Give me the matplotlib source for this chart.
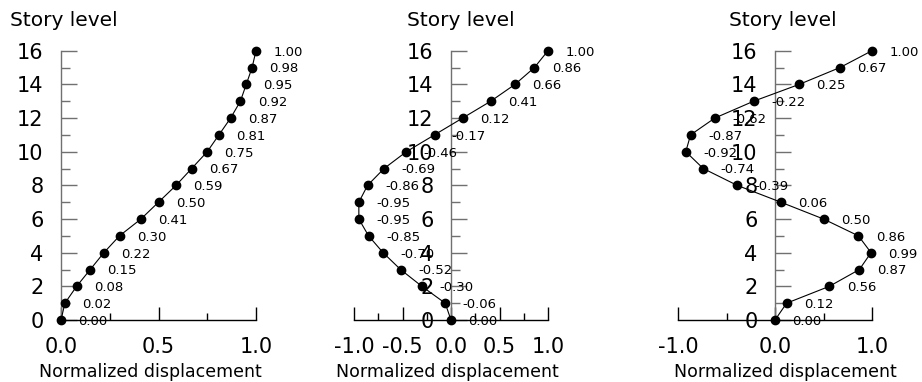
import numpy as np
import matplotlib
matplotlib.use("Agg")
import matplotlib.pyplot as plt
from matplotlib.ticker import MultipleLocator, FormatStrFormatter

plt.rcParams['axes.unicode_minus'] = False
plt.rcParams['font.family'] = ['DejaVu Sans']

# story levels and normalized mode shapes
stories = np.arange(0, 17)
mode1 = [0.00, 0.02, 0.08, 0.15, 0.22, 0.30, 0.41, 0.50, 0.59,
         0.67, 0.75, 0.81, 0.87, 0.92, 0.95, 0.98, 1.00]
mode2 = [0.00, -0.06, -0.30, -0.52, -0.70, -0.85, -0.95, -0.95, -0.86,
         -0.69, -0.46, -0.17, 0.12, 0.41, 0.66, 0.86, 1.00]
mode3 = [0.00, 0.12, 0.56, 0.87, 0.99, 0.86, 0.50, 0.06, -0.39,
         -0.74, -0.92, -0.87, -0.62, -0.22, 0.25, 0.67, 1.00]
modes = [mode1, mode2, mode3]

x_limits = [(0.0, 1.0), (-1.0, 1.0), (-1.0, 1.0)]
x_major = [0.5, 0.5, 1.0]
x_minor = [0.25, 0.25, 0.5]

y_title = "Story level"
x_title = "Normalized displacement"

W, H = 922, 382
fig = plt.figure(figsize=(W / 100, H / 100), dpi=100)

# axes boxes in pixels: (left, right) of x-range, y of level 0 and level 16
boxes = [(61, 256), (354, 548), (678, 872)]
y_bot, y_top = 320, 50.7
ylab_cx = [63.5, 461, 783]
xlab_cx = [150, 447, 785]

for i, shape in enumerate(modes):
    l, r = boxes[i]
    ax = fig.add_axes([l / W, (H - y_bot) / H, (r - l) / W, (y_bot - y_top) / H])
    ax.plot(shape, stories, color='black', lw=0.8, marker='o', ms=6,
            clip_on=False, zorder=3)
    for v, s in zip(shape, stories):
        ax.annotate(f"{v:.2f}", (v, s), xytext=(12.5, -1), textcoords='offset points',
                    ha='left', va='center', fontsize=9.5, annotation_clip=False)

    ax.set_xlim(*x_limits[i])
    ax.set_ylim(0, 16)
    ax.spines['top'].set_visible(False)
    ax.spines['right'].set_visible(False)
    ax.spines['left'].set_position(('data', 0))
    ax.spines['left'].set_color('#707070')
    ax.spines['bottom'].set_linewidth(1.0)
    ax.spines['left'].set_linewidth(1.0)

    ax.xaxis.set_major_locator(MultipleLocator(x_major[i]))
    ax.xaxis.set_minor_locator(MultipleLocator(x_minor[i]))
    ax.xaxis.set_major_formatter(FormatStrFormatter('%.1f'))
    ax.yaxis.set_major_locator(MultipleLocator(2))
    ax.yaxis.set_minor_locator(MultipleLocator(1))

    ax.tick_params(axis='x', which='major', direction='in', length=9.4, width=1.0,
                   labelsize=15, pad=12.5)
    ax.tick_params(axis='x', which='minor', direction='in', length=5, width=1.0)
    ax.tick_params(axis='y', which='major', direction='in', length=11.8, width=1.0,
                   color='#707070', labelsize=15, pad=12.5)
    ax.tick_params(axis='y', which='minor', direction='in', length=6.5, width=1.0,
                   color='#707070')
    ax.patch.set_visible(False)

    fig.text(ylab_cx[i] / W, 1 - 26 / H, y_title, ha='center', va='baseline', fontsize=14.5)
    fig.text(xlab_cx[i] / W, 1 - 377 / H, x_title, ha='center', va='baseline', fontsize=12.5)

fig.savefig("out.png", dpi=100)
